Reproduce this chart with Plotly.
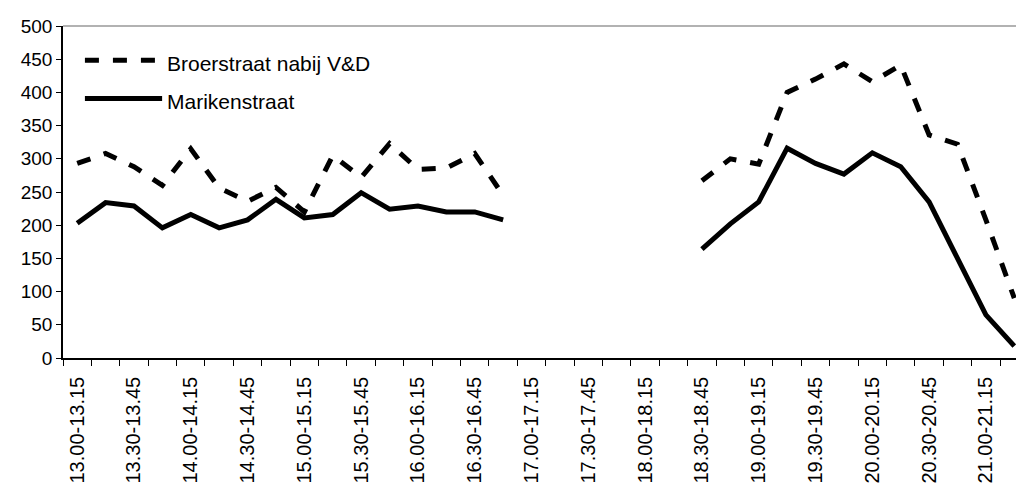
import plotly.graph_objects as go

# Quarter-hour counting intervals
categories = [
    "13.00-13.15", "13.15-13.30", "13.30-13.45", "13.45-14.00",
    "14.00-14.15", "14.15-14.30", "14.30-14.45", "14.45-15.00",
    "15.00-15.15", "15.15-15.30", "15.30-15.45", "15.45-16.00",
    "16.00-16.15", "16.15-16.30", "16.30-16.45", "16.45-17.00",
    "17.00-17.15", "17.15-17.30", "17.30-17.45", "17.45-18.00",
    "18.00-18.15", "18.15-18.30", "18.30-18.45", "18.45-19.00",
    "19.00-19.15", "19.15-19.30", "19.30-19.45", "19.45-20.00",
    "20.00-20.15", "20.15-20.30", "20.30-20.45", "20.45-21.00",
    "21.00-21.15", "21.15-21.30",
]

# Counts per interval (None = not counted)
broerstraat = [
    293, 308, 288, 260, 315, 256, 236, 257,
    220, 305, 272, 323, 284, 286, 308, 245,
    None, None, None, None, None, None,
    267, 300, 292, 400, 420, 443, 416, 441,
    336, 322, 208, 90,
]
marikenstraat = [
    203, 234, 229, 196, 216, 196, 208, 239,
    211, 216, 249, 224, 229, 220, 220, 208,
    None, None, None, None, None, None,
    164, 202, 235, 316, 293, 277, 309, 288,
    235, 149, 65, 18,
]

series_names = ["Broerstraat nabij V&D", "Marikenstraat"]
y_ticks = [0, 50, 100, 150, 200, 250, 300, 350, 400, 450, 500]

FONT = "Liberation Sans, Arial, sans-serif"
DASH = "14px,14px"

x_idx = list(range(len(categories)))

fig = go.Figure()
fig.add_trace(go.Scatter(
    x=x_idx, y=broerstraat, mode="lines", name=series_names[0],
    line=dict(color="black", width=5, dash=DASH),
    connectgaps=False, showlegend=False,
))
fig.add_trace(go.Scatter(
    x=x_idx, y=marikenstraat, mode="lines", name=series_names[1],
    line=dict(color="black", width=5),
    connectgaps=False, showlegend=False,
))

# Legend drawn inside the plot area, top left
legend_rows = [(series_names[0], DASH, 0.897), (series_names[1], "solid", 0.782)]
for label, dash, yy in legend_rows:
    fig.add_shape(type="line", xref="paper", yref="paper",
                  x0=0.023, x1=0.104, y0=yy, y1=yy,
                  line=dict(color="black", width=5, dash=dash))
    fig.add_annotation(xref="paper", yref="paper", x=0.107, y=yy - 0.01,
                       text=label, showarrow=False, xanchor="left",
                       yanchor="middle",
                       font=dict(family=FONT, size=21, color="black"))

# Grey frame line along the top of the plot area
fig.add_shape(type="line", xref="paper", yref="paper", x0=0, x1=1, y0=1, y1=1,
              line=dict(color="#999999", width=1.5))

fig.update_layout(
    width=1016, height=489,
    margin=dict(l=63, r=0, t=26, b=131, pad=0),
    paper_bgcolor="white", plot_bgcolor="white",
    font=dict(family=FONT, size=20, color="black"),
    xaxis=dict(
        range=[-0.5, 33.06],
        tickmode="array",
        tickvals=x_idx[::2],
        ticktext=categories[::2],
        tickangle=-90,
        ticks="",
        ticklabelstandoff=9,
        showline=True, linecolor="black", linewidth=1.5,
        showgrid=False, zeroline=False,
        automargin=False,
        minor=dict(tick0=-0.5, dtick=1, ticks="outside", ticklen=6,
                   tickcolor="black", tickwidth=1),
        tickfont=dict(family=FONT, size=20, color="black"),
    ),
    yaxis=dict(
        range=[0, 500],
        tickmode="array",
        tickvals=y_ticks,
        ticks="outside", ticklen=5, tickcolor="black",
        showline=True, linecolor="black", linewidth=1.5,
        showgrid=False, zeroline=False,
        automargin=False,
        tickfont=dict(family=FONT, size=19, color="black"),
    ),
)

fig.write_html("out.html")
